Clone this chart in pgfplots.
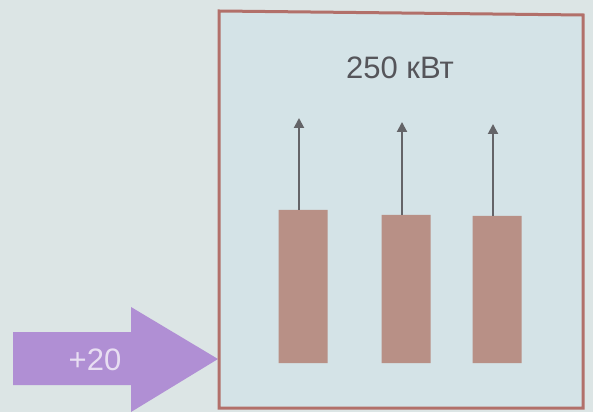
\documentclass[border=0pt]{standalone}
\usepackage{pgfplots}
\pgfplotsset{compat=1.18}
\usepackage{fontspec}
\setmainfont{Liberation Sans}
\usetikzlibrary{arrows.meta}
\definecolor{bgout}{RGB}{220,229,229}
\definecolor{bgin}{RGB}{212,227,231}
\definecolor{boxc}{RGB}{178,112,106}
\definecolor{barc}{RGB}{184,144,134}
\definecolor{arrc}{RGB}{100,100,104}
\definecolor{purp}{RGB}{176,143,212}
\definecolor{txtc}{RGB}{85,85,90}
\definecolor{plusc}{RGB}{232,222,242}
\begin{document}
\begin{tikzpicture}
\begin{axis}[
  scale only axis, width=296.5pt, height=206pt,
  xmin=0, xmax=593, ymin=-49, ymax=363,
  hide axis, clip=true,
]
% background
\addplot[draw=none, fill=bgout] coordinates {(0,-49) (593,-49) (593,363) (0,363)} -- cycle;
\addplot[draw=none, fill=bgin] coordinates {(219,352) (583,348) (583,-45) (219,-45)} -- cycle;
% purple arrow
\addplot[draw=none, fill=purp] coordinates {(13,31) (131,31) (131,56) (218,4) (131,-49) (131,-22) (13,-22)} -- cycle;
\node[text=plusc, font=\fontsize{15.5}{18}\selectfont] at (axis cs:95,3) {+20};
% box border
\addplot[draw=boxc, line width=1.5pt] coordinates {(219,352) (583,348) (583,-45) (219,-45)} -- cycle;
% title
\node[text=txtc, font=\fontsize{15.5}{18}\selectfont] at (axis cs:400,295) {250 кВт};
% bars
\addplot[ybar, bar width=49, fill=barc, draw=none] coordinates {(303,153) (406,148) (497,147)};
% arrows
\addplot[arrc, line width=1pt, -{Triangle[length=5pt,width=5pt]},
  quiver={u=\thisrow{u}, v=\thisrow{v}}] table {
x y u v
299 153 0 92
402 148 0 93
493 147 0 92
};
\end{axis}
\end{tikzpicture}
\end{document}
